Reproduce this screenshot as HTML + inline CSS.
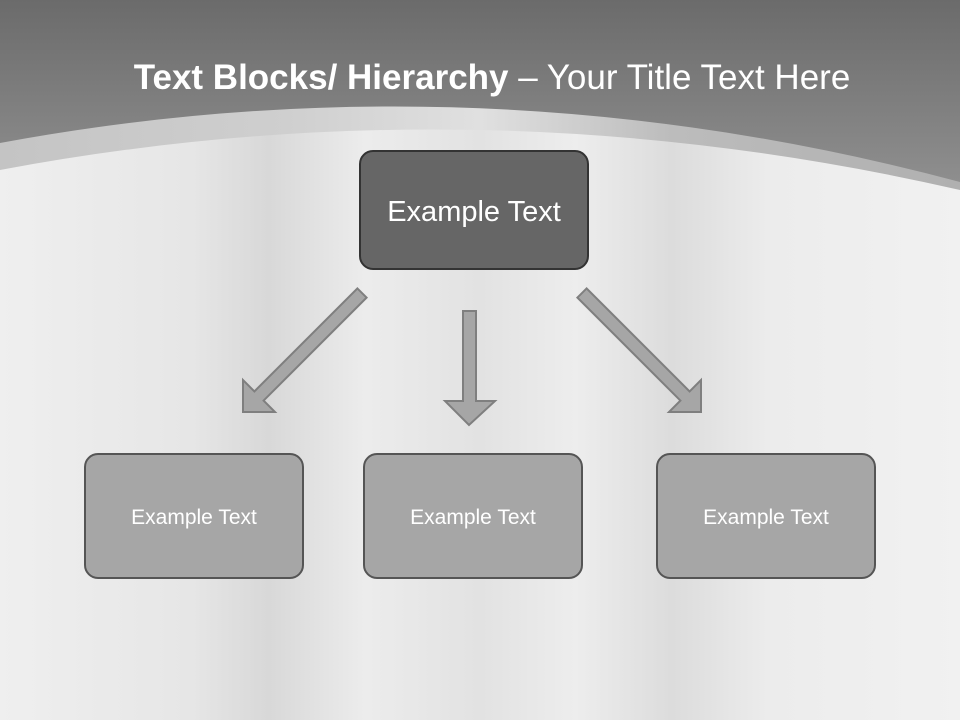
<!DOCTYPE html>
<html><head><style>
html,body{margin:0;padding:0}
body{width:960px;height:720px;overflow:hidden;position:relative;font-family:"Liberation Sans",sans-serif;
background:linear-gradient(90deg,#efefef 0%,#e6e6e6 20%,#d8d8d8 28%,#ececec 38%,#e2e2e2 50%,#ededed 60%,#dcdcdc 70%,#ececec 80%,#f1f1f1 100%);}
.t{position:absolute;left:0;top:58px;width:984px;text-align:center;color:#fff;font-size:35px;white-space:nowrap}
.box{position:absolute;box-sizing:border-box;border-radius:14px;display:flex;align-items:center;justify-content:center;color:#fff;padding-top:4px}
.top{left:359px;top:150px;width:230px;height:120px;background:#666;border:2px solid #333;font-size:29px}
.b{top:453px;width:220px;height:126px;background:#a6a6a6;border:2px solid #555;font-size:21px}
</style></head><body>
<svg width="960" height="720" style="position:absolute;left:0;top:0">
<defs>
<linearGradient id="hg" x1="0" y1="0" x2="0" y2="1"><stop offset="0" stop-color="#6b6b6b"/><stop offset="1" stop-color="#8e8e8e"/></linearGradient>
<linearGradient id="bg2" x1="0" y1="0" x2="1" y2="0"><stop offset="0" stop-color="#c4c4c4"/><stop offset="0.3" stop-color="#cfcfcf"/><stop offset="0.5" stop-color="#e0e0e0"/><stop offset="0.7" stop-color="#bcbcbc"/><stop offset="1" stop-color="#b0b0b0"/></linearGradient>
</defs>
<path d="M0,170 Q480,80 960,190 L960,0 L0,0 Z" fill="url(#bg2)"/>
<path d="M0,143 Q480,54 960,182 L960,0 L0,0 Z" fill="url(#hg)"/>
<g fill="#a6a6a6" stroke="#7f7f7f" stroke-width="2">
<polygon points="357.4,288.4 366.6,297.6 263.6,400.6 275,412 243,412 243,380 254.4,391.4"/>
<polygon points="586.6,288.4 577.4,297.6 680.4,400.6 669,412 701,412 701,380 689.6,391.4"/>
<polygon points="463,311 476,311 476,401 495,401 469,425 445,401 463,401"/>
</g>
</svg>
<div class="t"><b>Text Blocks/ Hierarchy</b> – Your Title Text Here</div>
<div class="box top">Example Text</div>
<div class="box b" style="left:84px">Example Text</div>
<div class="box b" style="left:363px">Example Text</div>
<div class="box b" style="left:656px">Example Text</div>
</body></html>
